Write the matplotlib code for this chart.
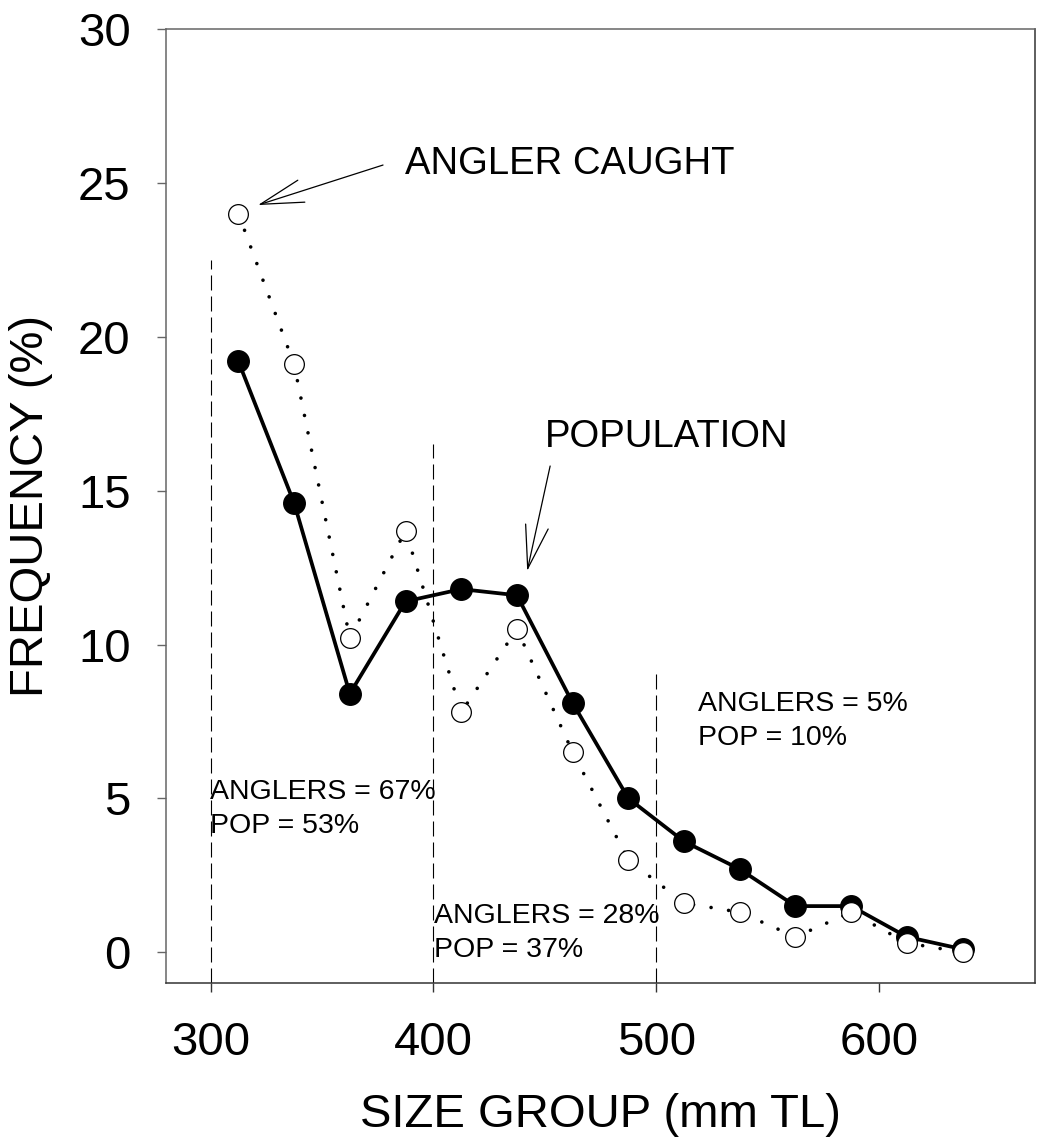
import numpy as np
import matplotlib
matplotlib.use("Agg")
import matplotlib.pyplot as plt

plt.rcParams['font.family'] = ['Liberation Sans', 'DejaVu Sans']

# size group midpoints (mm TL)
size_groups = [312.5, 337.5, 362.5, 387.5, 412.5, 437.5, 462.5, 487.5,
               512.5, 537.5, 562.5, 587.5, 612.5, 637.5]
# frequency (%) of the population sample
population = [19.2, 14.6, 8.4, 11.4, 11.8, 11.6, 8.1, 5.0,
              3.6, 2.7, 1.5, 1.5, 0.5, 0.1]
# frequency (%) of angler caught fish
anglers = [24.0, 19.1, 10.2, 13.7, 7.8, 10.5, 6.5, 3.0,
           1.6, 1.3, 0.5, 1.3, 0.3, 0.0]

# size class boundaries and how high the dashed marker goes
boundaries = [300, 400, 500]
boundary_tops = [22.5, 16.5, 9.1]
boundary_text = ["ANGLERS = 67%\nPOP = 53%",
                 "ANGLERS = 28%\nPOP = 37%",
                 "ANGLERS = 5%\nPOP = 10%"]

x_ticks = [300, 400, 500, 600]
y_ticks = [0, 5, 10, 15, 20, 25, 30]

fig = plt.figure(figsize=(10.4, 11.42), dpi=100)
ax = fig.add_axes([0.1596, 0.1392, 0.8356, 0.8354])

# dashed boundary lines
for b, top in zip(boundaries, boundary_tops):
    ax.plot([b, b], [-1, top], color='black', lw=0.8,
            linestyle=(0, (13.5, 5.4)), zorder=1)

# angler caught - dotted line
ax.plot(size_groups, anglers, color='black', lw=2.6,
        linestyle=(0, (0.01, 4.9)), dash_capstyle='round', zorder=2)
# population - solid line with filled markers
ax.plot(size_groups, population, color='black', lw=2.7, marker='o',
        markersize=15.5, markerfacecolor='black', markeredgecolor='black',
        zorder=3)
# angler caught markers (open circles on top)
ax.plot(size_groups, anglers, linestyle='none', marker='o', markersize=14.2,
        markerfacecolor='white', markeredgecolor='black', markeredgewidth=0.9,
        zorder=4)

# labels for the size classes (position = baseline of the last line)
text_pos = [(299.7, 3.88), (400.3, -0.15), (518.9, 6.74)]
for (tx, ty), s in zip(text_pos, boundary_text):
    ax.text(tx, ty, s, fontsize=20.5, ha='left', va='baseline',
            linespacing=1.38, zorder=5)

arrow_style = dict(arrowstyle='->, head_length=31, head_width=8.3',
                   mutation_scale=1, color='black', lw=0.9,
                   shrinkA=0, shrinkB=0)
ax.annotate('', xy=(321.3, 24.28), xytext=(377.4, 25.58),
            arrowprops=arrow_style)
ax.text(387.2, 25.29, 'ANGLER CAUGHT', fontsize=27.5, ha='left', va='baseline')

ax.annotate('', xy=(442.1, 12.39), xytext=(452.4, 15.8),
            arrowprops=arrow_style)
ax.text(450.1, 16.43, 'POPULATION', fontsize=27.5, ha='left', va='baseline')

ax.set_xlim(280, 670)
ax.set_ylim(-1, 30)
ax.set_xticks(x_ticks)
ax.set_yticks(y_ticks)
ax.tick_params(axis='both', direction='out', length=6.5, width=1.0,
               labelsize=34, pad=19)
ax.tick_params(axis='x', pad=21)
ax.tick_params(axis='y', color='#666666')
ax.tick_params(axis='x', color='#333333')
ax.spines['left'].set_color('#666666')
ax.spines['top'].set_color('#666666')
ax.spines['bottom'].set_color('#333333')
ax.spines['right'].set_color('#333333')
for sp in ax.spines.values():
    sp.set_linewidth(1.1)

ax.set_xlabel('SIZE GROUP (mm TL)', fontsize=34, labelpad=20)
ax.set_ylabel('FREQUENCY (%)', fontsize=34, labelpad=18)

fig.savefig('out.png', dpi=100)
